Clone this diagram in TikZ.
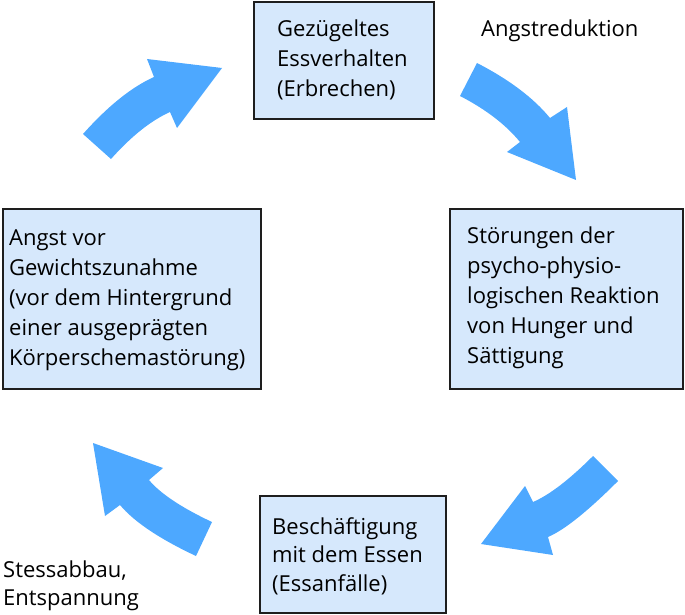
\documentclass[tikz,border=0pt]{standalone}
\usepackage{fontspec}
\setmainfont{Open Sans}
\usetikzlibrary{calc}
\definecolor{arrowblue}{HTML}{4DA8FF}
\definecolor{boxfill}{HTML}{D6E8FC}
\definecolor{boxline}{HTML}{1E1E1E}
\tikzset{
  box/.style={draw=boxline, fill=boxfill, line width=1.6pt, inner sep=0pt, anchor=north west},
  txt/.style={inner sep=0pt, anchor=base west, font=\fontsize{22}{30}\selectfont, text=black},
  txtb/.style={txt, font=\fontsize{22}{28.5}\selectfont},
  blockarrow/.style={fill=arrowblue, draw=none},
}
\begin{document}
\begin{tikzpicture}[x=1pt, y=-1pt]
\useasboundingbox (0,0) rectangle (685,615);

% boxes
\node[box, minimum width=180pt, minimum height=117pt] (top) at (253,1) {};
\node[box, minimum width=233pt, minimum height=180pt] (right) at (449,208) {};
\node[box, minimum width=258pt, minimum height=180pt] (left) at (2,208) {};
\node[box, minimum width=186pt, minimum height=117pt] (bottom) at (259,495) {};

% texts
\node[txt] (ttop) at (277,37) {\parbox[t]{200pt}{Gezügeltes\\Essverhalten\\(Erbrechen)}};
\node[txt] (tright) at (467,243) {\parbox[t]{220pt}{Störungen der\\psycho-physio-\\logischen Reaktion\\von Hunger und\\Sättigung}};
\node[txt] (tleft) at (9,245) {\parbox[t]{250pt}{Angst vor\\Gewichtszunahme\\(vor dem Hintergrund\\einer ausgeprägten\\Körperschemastörung)}};
\node[txtb] (tbottom) at (272,534) {\parbox[t]{180pt}{Beschäftigung\\mit dem Essen\\(Essanfälle)}};
\node[txt] (angst) at (481,37) {Angstreduktion};
\node[txtb] (stress) at (3,577) {\parbox[t]{160pt}{Stessabbau,\\Entspannung}};

% arrow 1 (upper left)
\coordinate (a1p0) at (83,134);
\coordinate (a1c) at (120.5,92);
\coordinate (a1p1) at (154,77);
\coordinate (a1q0) at (111,159);
\coordinate (a1d) at (141.5,124.8);
\coordinate (a1q1) at (170,112);
\fill[blockarrow] (a1p0) .. controls ($(a1p0)!0.6667!(a1c)$) and ($(a1p1)!0.6667!(a1c)$) .. (a1p1)
  -- (147,59) -- (222,68) -- (177,128) -- (a1q1)
  .. controls ($(a1q1)!0.6667!(a1d)$) and ($(a1q0)!0.6667!(a1d)$) .. (a1q0) -- cycle;

% arrow 2 (upper right)
\coordinate (a2p0) at (477,63);
\coordinate (a2c) at (525.3,87.9);
\coordinate (a2p1) at (550,118);
\coordinate (a2q0) at (460,96);
\coordinate (a2d) at (498.6,115.9);
\coordinate (a2q1) at (520,142);
\fill[blockarrow] (a2p0) .. controls ($(a2p0)!0.6667!(a2c)$) and ($(a2p1)!0.6667!(a2c)$) .. (a2p1)
  -- (567,107) -- (576,180) -- (507,152) -- (a2q1)
  .. controls ($(a2q1)!0.6667!(a2d)$) and ($(a2q0)!0.6667!(a2d)$) .. (a2q0) -- cycle;

% arrow 3 (lower right)
\coordinate (a3p0) at (593,456);
\coordinate (a3c) at (557.5,491.5);
\coordinate (a3p1) at (533,502);
\coordinate (a3q0) at (618,481);
\coordinate (a3d) at (572.5,526.5);
\coordinate (a3q1) at (548,537);
\fill[blockarrow] (a3p0) .. controls ($(a3p0)!0.6667!(a3c)$) and ($(a3p1)!0.6667!(a3c)$) .. (a3p1)
  -- (525,486) -- (481,544) -- (553,555) -- (a3q1)
  .. controls ($(a3q1)!0.6667!(a3d)$) and ($(a3q0)!0.6667!(a3d)$) .. (a3q0) -- cycle;

% arrow 4 (lower left)
\coordinate (a4p0) at (212,522);
\coordinate (a4c) at (166.1,500.4);
\coordinate (a4p1) at (149,480);
\coordinate (a4q0) at (196,556);
\coordinate (a4d) at (141.1,530.2);
\coordinate (a4q1) at (120,505);
\fill[blockarrow] (a4p0) .. controls ($(a4p0)!0.6667!(a4c)$) and ($(a4p1)!0.6667!(a4c)$) .. (a4p1)
  -- (163,468) -- (93,443) -- (105,516) -- (a4q1)
  .. controls ($(a4q1)!0.6667!(a4d)$) and ($(a4q0)!0.6667!(a4d)$) .. (a4q0) -- cycle;
\end{tikzpicture}
\end{document}
